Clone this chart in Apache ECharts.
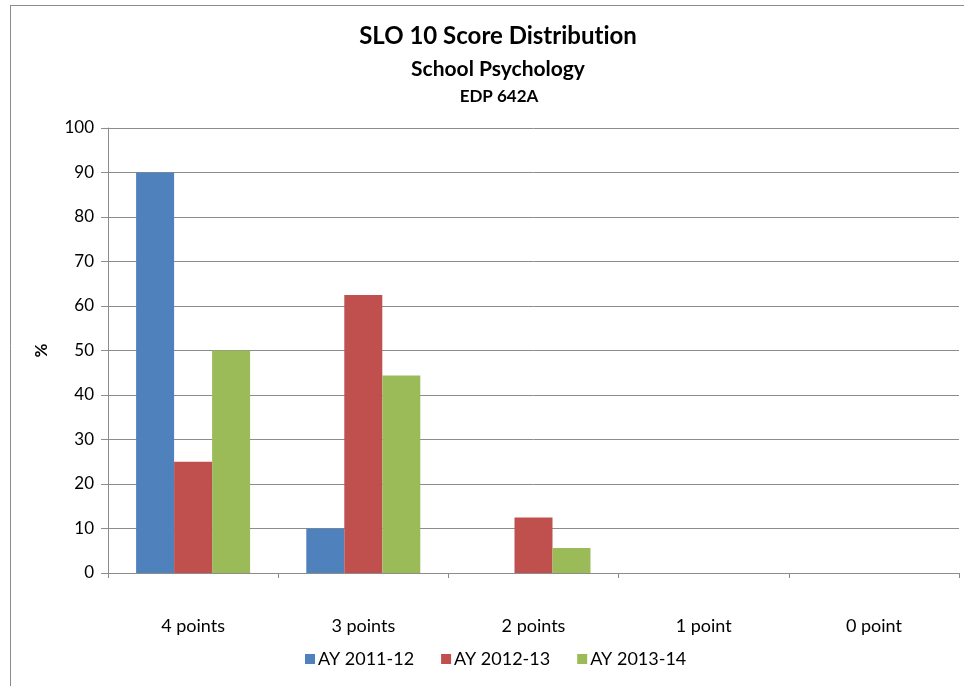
<!DOCTYPE html>
<html>
<head>
<meta charset="utf-8">
<script src="https://cdn.jsdelivr.net/npm/echarts@6/dist/echarts.min.js"></script>
<style>
  html, body { margin: 0; padding: 0; background: #fff; }
  #chart { width: 964px; height: 686px; }
</style>
</head>
<body>
<div id="chart"></div>
<script>
// data
const categories = ['4 points', '3 points', '2 points', '1 point', '0 point']
const seriesNames = ['AY 2011-12', 'AY 2012-13', 'AY 2013-14']
const ay1112 = [90, 10, 0, 0, 0]
const ay1213 = [25, 62.5, 12.5, 0, 0]
const ay1314 = [50, 44.4, 5.6, 0, 0]
const colorList = ['#4F81BD', '#C0504D', '#9BBB59']

const fontFamily = 'Lato, "Open Sans", sans-serif'
const chart = echarts.init(document.getElementById('chart'))

const seriesData = [ay1112, ay1213, ay1314]
const series = seriesData.map((data, index) => ({
    name: seriesNames[index],
    type: 'bar',
    data: data,
    barWidth: 38,
    barGap: '0%',
    itemStyle: { color: colorList[index] }
}))

const titleStyle = { fontSize: 24, fontWeight: 'bold', color: '#000', fontFamily: fontFamily }

const option = {
    animation: false,
    backgroundColor: '#fff',
    textStyle: { fontFamily: fontFamily },
    title: [{
        // split between "t" and "i" so Lato doesn't draw the "ti" ligature
        text: '{t|SLO 10 Score Distribut}{t|ion}',
        left: 493,
        textAlign: 'center',
        top: 19,
        textStyle: Object.assign({}, titleStyle, { rich: { t: titleStyle } })
    }, {
        text: 'School Psychology',
        left: 493,
        textAlign: 'center',
        top: 54,
        textStyle: { fontSize: 21, fontWeight: 'bold', color: '#000', fontFamily: fontFamily }
    }, {
        text: 'EDP 642A',
        left: 494,
        textAlign: 'center',
        top: 83,
        textStyle: { fontSize: 17, fontWeight: 'bold', color: '#000', fontFamily: fontFamily }
    }],
    legend: {
        data: seriesNames,
        bottom: 13,
        left: 300,
        itemWidth: 10,
        itemHeight: 10,
        itemGap: 27,
        icon: 'rect',
        textStyle: { fontSize: 18, color: '#000', fontFamily: fontFamily, padding: [0, 0, 0, -2] }
    },
    grid: {
        left: 108,
        right: 5,
        top: 128,
        bottom: 113
    },
    xAxis: {
        type: 'category',
        data: categories,
        axisLine: { lineStyle: { color: '#8c8c8c' } },
        axisTick: { show: true, alignWithLabel: false, length: 5, lineStyle: { color: '#8c8c8c' } },
        axisLabel: { color: '#000', fontSize: 18, margin: 44, fontFamily: fontFamily }
    },
    yAxis: {
        type: 'value',
        min: 0,
        max: 100,
        interval: 10,
        name: '%',
        nameLocation: 'middle',
        nameGap: 58,
        nameRotate: 90,
        nameTextStyle: { fontSize: 17, fontWeight: 'bold', color: '#000', fontFamily: fontFamily },
        axisLine: { show: true, lineStyle: { color: '#8c8c8c' } },
        axisTick: { show: true, length: 7, lineStyle: { color: '#8c8c8c' } },
        axisLabel: { color: '#000', fontSize: 17, margin: 14, fontFamily: fontFamily },
        splitLine: { lineStyle: { color: '#8c8c8c' } }
    },
    graphic: [{
        type: 'line',
        shape: { x1: 10.5, y1: 5, x2: 10.5, y2: 686 },
        style: { stroke: '#8c8c8c', lineWidth: 1 }
    }, {
        type: 'line',
        shape: { x1: 10, y1: 5.5, x2: 964, y2: 5.5 },
        style: { stroke: '#8c8c8c', lineWidth: 1 }
    }],
    series: series
}
chart.setOption(option)
</script>
</body>
</html>
